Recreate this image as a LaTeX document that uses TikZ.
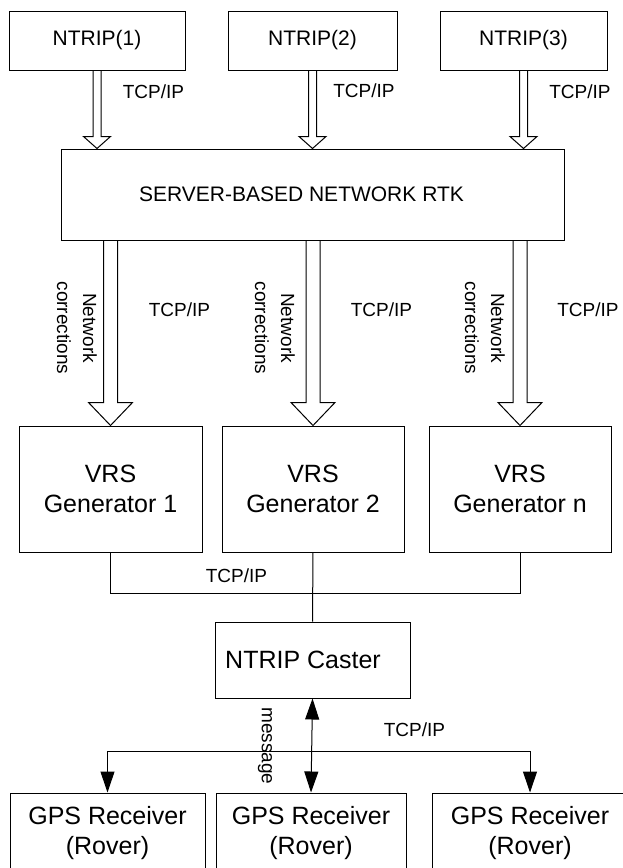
\documentclass[tikz,border=0pt]{standalone}
\usepackage{fontspec}
\setmainfont{Liberation Sans}
\usetikzlibrary{positioning,calc,arrows.meta}

\newcommand{\srcfont}{\fontsize{21}{26}\selectfont}
\newcommand{\boxfont}{\fontsize{25}{30}\selectfont}
\newcommand{\lblfont}{\fontsize{19}{26}\selectfont}

\tikzset{
  box/.style={draw, rectangle, inner sep=2pt, align=center},
  lbl/.style={font=\lblfont, inner sep=1pt},
  % hollow block arrow: shaft half width, head half width, head length
  hollow/.style n args={3}{to path={
    let \p1=(\tikztostart), \p2=(\tikztotarget) in
    (\x1-#1,\y1) -- (\x1-#1,\y2+#3) -- (\x1-#2,\y2+#3) -- (\x1,\y2)
    -- (\x1+#2,\y2+#3) -- (\x1+#1,\y2+#3) -- (\x1+#1,\y1)}},
  feedarrow/.style={hollow={4pt}{13.5pt}{12pt}},
  corrarrow/.style={hollow={7pt}{22pt}{23pt}},
}

\begin{document}
\begin{tikzpicture}[x=1pt,y=-1pt,line width=1pt,>={Triangle[length=21pt,width=14pt]}]
  \useasboundingbox (0,0) rectangle (623,868);

  % reference stations
  \node[box, minimum width=176pt, minimum height=59pt, font=\srcfont] (ntrip1) at (97,40.5) {NTRIP(1)};
  \node[box, minimum width=169pt, minimum height=59pt, font=\srcfont] (ntrip2) at (312.5,40.5) {NTRIP(2)};
  \node[box, minimum width=167pt, minimum height=59pt, font=\srcfont] (ntrip3) at (523.5,40.5) {NTRIP(3)};

  \node[box, minimum width=503pt, minimum height=91pt, font=\srcfont] (server) at (312.5,194.5) {SERVER-BASED NETWORK RTK\hspace{22pt}};

  \draw[feedarrow] (ntrip1.south) to (ntrip1.south |- server.north);
  \draw[feedarrow] (ntrip2.south) to (ntrip2.south |- server.north);
  \draw[feedarrow] (ntrip3.south) to (ntrip3.south |- server.north);

  \node[lbl] (tcpa) at (153.5,92) {TCP/IP};
  \node[lbl] (tcpb) at (364,91) {TCP/IP};
  \node[lbl] (tcpc) at (580,92) {TCP/IP};

  % VRS generators
  \node[box, minimum width=183pt, minimum height=126pt, font=\boxfont] (vrs1) at (110.5,489) {VRS\\Generator 1};
  \node[box, minimum width=182pt, minimum height=126pt, font=\boxfont] (vrs2) at (313,489) {VRS\\Generator 2};
  \node[box, minimum width=182pt, minimum height=126pt, font=\boxfont] (vrsn) at (520,489) {VRS\\Generator n};

  \draw[corrarrow] (vrs1.north |- server.south) to (vrs1.north);
  \draw[corrarrow] (vrs2.north |- server.south) to (vrs2.north);
  \draw[corrarrow] (vrsn.north |- server.south) to (vrsn.north);

  \node[lbl, rotate=-90, align=center] (corr1) at (77,328) {Network\\corrections};
  \node[lbl, rotate=-90, align=center] (corr2) at (275,328) {Network\\corrections};
  \node[lbl, rotate=-90, align=center] (corr3) at (485,328) {Network\\corrections};

  \node[lbl] (tcpd) at (179.5,310) {TCP/IP};
  \node[lbl] (tcpe) at (381.5,310) {TCP/IP};
  \node[lbl] (tcpf) at (588,310) {TCP/IP};

  % caster
  \node[box, minimum width=195pt, minimum height=76pt, font=\boxfont] (caster) at (312.5,660) {NTRIP Caster\hspace{19pt}};

  \draw (vrs1.south) -- ++(0,41) -| (vrsn.south);
  \draw (vrs2.south) -- (caster.north);
  \node[lbl] (tcpg) at (236.5,576) {TCP/IP};

  % rovers
  \node[box, minimum width=195pt, minimum height=80pt, font=\boxfont] (rover1) at (107.5,833) {GPS Receiver\\(Rover)};
  \node[box, minimum width=190pt, minimum height=80pt, font=\boxfont] (rover2) at (311,833) {GPS Receiver\\(Rover)};
  \node[box, minimum width=196pt, minimum height=80pt, font=\boxfont] (rover3) at (530,833) {GPS Receiver\\(Rover)};

  \coordinate (bus) at (312,751);
  \draw[<->] (caster.south) -- (rover2.north);
  \draw[->] (bus) -| (rover1.north);
  \draw[->] (bus) -| (rover3.north);

  \node[lbl, rotate=-90] (msg) at (265,746) {message};
  \node[lbl] (tcph) at (414.5,730) {TCP/IP};
\end{tikzpicture}
\end{document}
